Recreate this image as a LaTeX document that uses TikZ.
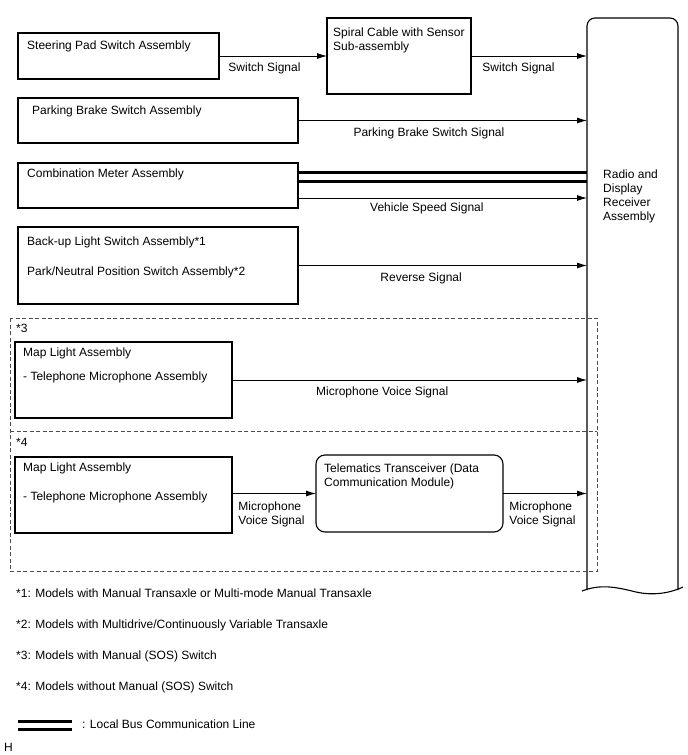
\documentclass[tikz,border=0pt]{standalone}
\usepackage{fontspec}
\setmainfont{Liberation Sans}
\usetikzlibrary{arrows.meta,calc,positioning}

\begin{document}
\begin{tikzpicture}[x=1pt,y=-1pt,font=\fontsize{12}{14}\selectfont,
  unitbox/.style={draw,line width=1.1pt,inner sep=0pt,outer sep=0pt,anchor=north west},
  txt/.style={inner sep=0pt,anchor=west},
  lab/.style={inner sep=0pt,align=left,anchor=north west},
  siglab/.style={inner sep=0pt,below=#1},
  sig/.style={line width=0.9pt,-{Latex[length=10pt,width=6pt]}},
  bus/.style={line width=3pt},
  grp/.style={draw=black!70,line width=0.9pt,dash pattern=on 4pt off 2.5pt}]
\useasboundingbox (0,0) rectangle (688,755);

% receiver
\node[inner sep=0pt,outer sep=0pt,minimum width=91,minimum height=572,anchor=north west] (rcv) at (587,18) {};
\draw[line width=1.1pt,rounded corners=8pt] (rcv.south west) -- (rcv.north west) -- (rcv.north east) -- (rcv.south east);
\draw[line width=1.1pt] (582,591) .. controls (600,584) and (615,587) .. (632,591) .. controls (650,596) and (668,594) .. (683,587);
\node[lab] (rcvtxt) at (603,170) {Radio and\\Display\\Receiver\\Assembly};

% groups
\draw[grp] (10,318) rectangle (597,571);
\draw[grp] (10,431) -- (597,431);
\node[txt] (grp3) at (16,328) {*3};
\node[txt] (grp4) at (16,442) {*4};

% units
\node[unitbox,minimum width=201,minimum height=46] (spad) at (18,33) {};
\node[txt] (spadtxt) at ($(spad.north west)+(9,13)$) {Steering Pad Switch Assembly};
\node[unitbox,minimum width=144,minimum height=76] (spiral) at (327,18) {};
\node[lab] (spiraltxt) at ($(spiral.north west)+(6,9.5)$) {Spiral Cable with Sensor\\Sub-assembly};
\node[unitbox,minimum width=280,minimum height=45] (pbrake) at (18,98) {};
\node[txt] (pbraketxt) at ($(pbrake.north west)+(14,13)$) {Parking Brake Switch Assembly};
\node[unitbox,minimum width=280,minimum height=45] (cmeter) at (18,163) {};
\node[txt] (cmetertxt) at ($(cmeter.north west)+(9,11)$) {Combination Meter Assembly};
\node[unitbox,minimum width=280,minimum height=77] (bkup) at (18,227) {};
\node[txt] (bkuptxt) at ($(bkup.north west)+(9,15)$) {Back-up Light Switch Assembly*1};
\node[txt] (pnptxt) at ($(bkup.north west)+(9,45)$) {Park/Neutral Position Switch Assembly*2};
\node[unitbox,minimum width=217,minimum height=76] (map1) at (15,342) {};
\node[txt] (map1txt) at ($(map1.north west)+(8,11)$) {Map Light Assembly};
\node[txt] (mic1txt) at ($(map1.north west)+(8,35)$) {- Telephone Microphone Assembly};
\node[unitbox,minimum width=217,minimum height=76] (map2) at (15,457) {};
\node[txt] (map2txt) at ($(map2.north west)+(8,11)$) {Map Light Assembly};
\node[txt] (mic2txt) at ($(map2.north west)+(8,40)$) {- Telephone Microphone Assembly};
\node[unitbox,rounded corners=9pt,minimum width=187,minimum height=77] (tcm) at (316,455) {};
\node[lab] (tcmtxt) at ($(tcm.north west)+(8,8.5)$) {Telematics Transceiver (Data\\Communication Module)};

% signals
\draw[sig] (spad.east) -- node[lab,pos=0,xshift=9pt,yshift=-6.5pt] (sw1) {Switch Signal} (spad.east -| spiral.west);
\draw[sig] (spiral.east) -- node[lab,pos=0,xshift=11pt,yshift=-6.5pt] (sw2) {Switch Signal} (spiral.east -| rcv.west);
\draw[sig] (pbrake.east) -- node[siglab=6.4pt,pos=0.453] (pbsig) {Parking Brake Switch Signal} (pbrake.east -| rcv.west);
\coordinate (bus1) at ($(cmeter.north east)+(0,9.5)$);
\coordinate (bus2) at ($(cmeter.north east)+(0,18)$);
\coordinate (vss) at ($(cmeter.south east)+(0,-10)$);
\draw[bus] (bus1) -- (bus1 -| rcv.west);
\draw[bus] (bus2) -- (bus2 -| rcv.west);
\draw[sig] (vss) -- node[siglab=4.5pt,pos=0.446] (vsig) {Vehicle Speed Signal} (vss -| rcv.west);
\draw[sig] (bkup.east) -- node[siglab=6.4pt,pos=0.426] (rsig) {Reverse Signal} (bkup.east -| rcv.west);
\draw[sig] (map1.east) -- node[siglab=6.4pt,pos=0.423] (msig1) {Microphone Voice Signal} (map1.east -| rcv.west);
\draw[sig] (tcm.west -| map2.east) -- node[lab,pos=0,xshift=6pt,yshift=-7.5pt] (msig2) {Microphone\\Voice Signal} (tcm.west);
\draw[sig] (tcm.east) -- node[lab,pos=0,xshift=6pt,yshift=-7.5pt] (msig3) {Microphone\\Voice Signal} (tcm.east -| rcv.west);

% notes
\foreach \y/\note [count=\i] in {593/{Models with Manual Transaxle or Multi-mode Manual Transaxle},
    625/{Models with Multidrive/Continuously Variable Transaxle},
    656/{Models with Manual (SOS) Switch},
    687/{Models without Manual (SOS) Switch}}
  \node[txt] (note\i) at (16,\y) {*\i: \note};
\draw[bus] (18,721) -- (72,721);
\draw[bus] (18,729) -- (72,729);
\node[txt] (legend) at (82,724) {: Local Bus Communication Line};
\node[txt] (fig) at (4,747) {H};
\end{tikzpicture}
\end{document}
